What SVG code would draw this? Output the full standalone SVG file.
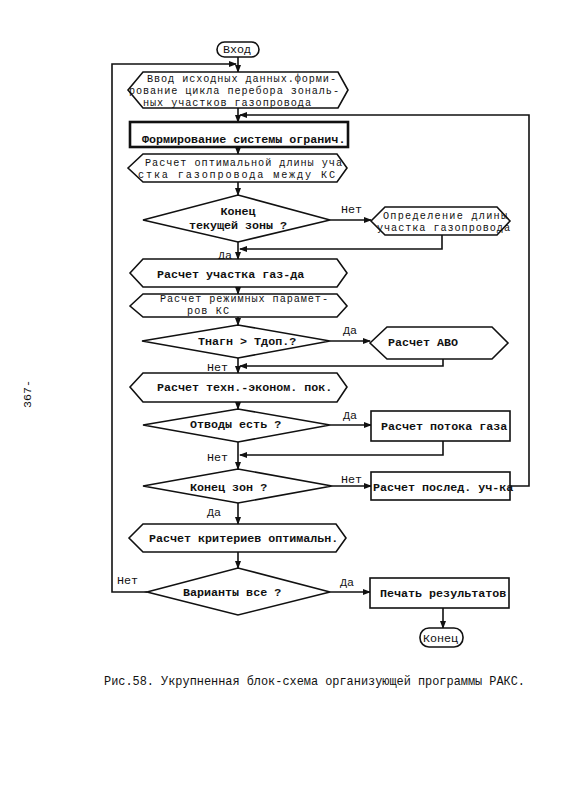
<svg xmlns="http://www.w3.org/2000/svg" width="564" height="800" viewBox="0 0 564 800">
<defs>
<marker id="ah" markerWidth="8" markerHeight="6" refX="7" refY="3" orient="auto" markerUnits="userSpaceOnUse">
<path d="M0,0 L8,3 L0,6 Z" fill="#111"/>
</marker>
<style>
.s{fill:#fff;stroke:#111;stroke-width:1.6}
.thick{fill:#fff;stroke:#111;stroke-width:2.6}
.c{fill:none;stroke:#111;stroke-width:1.6}
.a{fill:none;stroke:#111;stroke-width:1.6;marker-end:url(#ah)}
text{font-family:"Liberation Mono","DejaVu Sans Mono",monospace;font-size:11.7px;fill:#111}
.b{font-weight:bold}
.m{font-size:10.2px}
</style>
</defs>
<rect width="564" height="800" fill="#fff"/>
<g id="connectors">
<line class="a" x1="238" y1="57" x2="238" y2="72"/>
<polyline class="a" points="147,592 112,592 112,64 236,64"/>
<line class="a" x1="238" y1="108" x2="238" y2="122"/>
<polyline class="a" points="510,486 529,486 529,115 240,115"/>
<line class="a" x1="238" y1="147" x2="238" y2="154"/>
<line class="a" x1="238" y1="182" x2="238" y2="195"/>
<line class="a" x1="330" y1="220" x2="371" y2="220"/>
<polyline class="a" points="442,235 442,249 240,249"/>
<line class="a" x1="238" y1="242" x2="238" y2="259"/>
<line class="a" x1="238" y1="287" x2="238" y2="294"/>
<line class="a" x1="238" y1="317" x2="238" y2="325"/>
<line class="a" x1="330" y1="341" x2="370" y2="341"/>
<polyline class="a" points="443,359 443,366 240,366"/>
<line class="a" x1="238" y1="358" x2="238" y2="373"/>
<line class="a" x1="238" y1="402" x2="238" y2="409"/>
<line class="a" x1="330" y1="425" x2="371" y2="425"/>
<polyline class="a" points="443,441 443,455 240,455"/>
<line class="a" x1="238" y1="442" x2="238" y2="469"/>
<line class="a" x1="332" y1="486" x2="371" y2="486"/>
<line class="a" x1="238" y1="503" x2="238" y2="524"/>
<line class="a" x1="238" y1="552" x2="238" y2="568"/>
<line class="a" x1="330" y1="592" x2="370" y2="592"/>
<line class="a" x1="443" y1="608" x2="443" y2="628"/>
<text x="341" y="213">Нет</text>
<text x="218" y="259">Да</text>
<text x="343" y="334">Да</text>
<text x="207" y="371">Нет</text>
<text x="343" y="419">Да</text>
<text x="207" y="461">Нет</text>
<text x="341" y="483">Нет</text>
<text x="207" y="516">Да</text>
<text x="117" y="584">Нет</text>
<text x="340" y="586">Да</text>
</g>
<g id="start">
<rect class="s" x="217" y="42" width="42" height="15" rx="7.5"/>
<text x="223" y="53">Вход</text>
</g>
<g id="input">
<polygon class="s" points="128,90 143,72 338,72 348,90 338,108 143,108"/>
<text class="m" x="147" y="82" textLength="189" lengthAdjust="spacing">Ввод исходных данных.форми-</text>
<text class="m" x="129" y="94" textLength="210" lengthAdjust="spacing">рование цикла перебора зональ-</text>
<text class="m" x="143" y="106" textLength="168" lengthAdjust="spacing">ных участков газопровода</text>
</g>
<g id="constraints">
<rect class="thick" x="130" y="122" width="218" height="25"/>
<text class="b" x="142" y="143">Формирование системы огранич.</text>
</g>
<g id="optlen">
<polygon class="s" points="128,168 143,154 337,154 347,168 337,182 143,182"/>
<text class="m" x="145" y="166" textLength="197" lengthAdjust="spacing">Расчет оптимальной длины уча</text>
<text class="m" x="138" y="178" textLength="197" lengthAdjust="spacing">стка газопровода  между  КС</text>
</g>
<g id="zoneend">
<polygon class="s" points="143,220 238,195 330,220 238,242"/>
<text class="b" x="238" y="215" text-anchor="middle">Конец</text>
<text class="b" x="238" y="229" text-anchor="middle">текущей зоны ?</text>
</g>
<g id="seglen">
<polygon class="s" points="371,221 385,207 497,207 510,221 497,235 385,235"/>
<text class="m" x="383" y="219" textLength="124" lengthAdjust="spacing">Определение длины</text>
<text class="m" x="377" y="231" textLength="133" lengthAdjust="spacing">участка газопровода</text>
</g>
<g id="segcalc">
<polygon class="s" points="130,273 143,259 337,259 347,273 337,287 143,287"/>
<text class="b" x="157" y="278">Расчет участка газ-да</text>
</g>
<g id="modes">
<polygon class="s" points="130,306 143,294 337,294 347,306 337,317 143,317"/>
<text class="m" x="160" y="302" textLength="168" lengthAdjust="spacing">Расчет режимных парамет-</text>
<text class="m" x="187" y="314" textLength="42" lengthAdjust="spacing">ров КС</text>
</g>
<g id="temp">
<polygon class="s" points="142,341 238,325 330,341 238,358"/>
<text class="b" x="198" y="345">Тнагн &gt; Тдоп.?</text>
</g>
<g id="avo">
<polygon class="s" points="370,343 387,327 492,327 508,343 492,359 387,359"/>
<text class="b" x="388" y="346">Расчет АВО</text>
</g>
<g id="techecon">
<polygon class="s" points="130,387 143,373 337,373 347,387 337,402 143,402"/>
<text class="b" x="157" y="391">Расчет техн.-эконом. пок.</text>
</g>
<g id="branches">
<polygon class="s" points="143,425 238,409 330,425 238,442"/>
<text class="b" x="190" y="428">Отводы есть ?</text>
</g>
<g id="flow">
<rect class="s" x="371" y="411" width="139" height="30"/>
<text class="b" x="381" y="430">Расчет потока газа</text>
</g>
<g id="zonesend">
<polygon class="s" points="143,486 238,469 332,486 238,503"/>
<text class="b" x="190" y="491">Конец зон ?</text>
</g>
<g id="lastseg">
<rect class="s" x="371" y="472" width="139" height="28"/>
<text class="b" x="373" y="491">Расчет послед. уч-ка</text>
</g>
<g id="criteria">
<polygon class="s" points="129,538 143,524 336,524 346,538 336,552 143,552"/>
<text class="b" x="149" y="542">Расчет критериев оптимальн.</text>
</g>
<g id="variants">
<polygon class="s" points="147,592 238,568 330,592 238,615"/>
<text class="b" x="183" y="596">Варианты все ?</text>
</g>
<g id="print">
<rect class="s" x="370" y="578" width="139" height="30"/>
<text class="b" x="380" y="597">Печать результатов</text>
</g>
<g id="end">
<rect class="s" x="420" y="628" width="43" height="19" rx="9"/>
<text x="423" y="642">Конец</text>
</g>
<text x="104" y="685" style="font-size:11.9px">Рис.58. Укрупненная блок-схема организующей программы РАКС.</text>
<text x="31" y="408" transform="rotate(-90 31 408)">367-</text>
</svg>
